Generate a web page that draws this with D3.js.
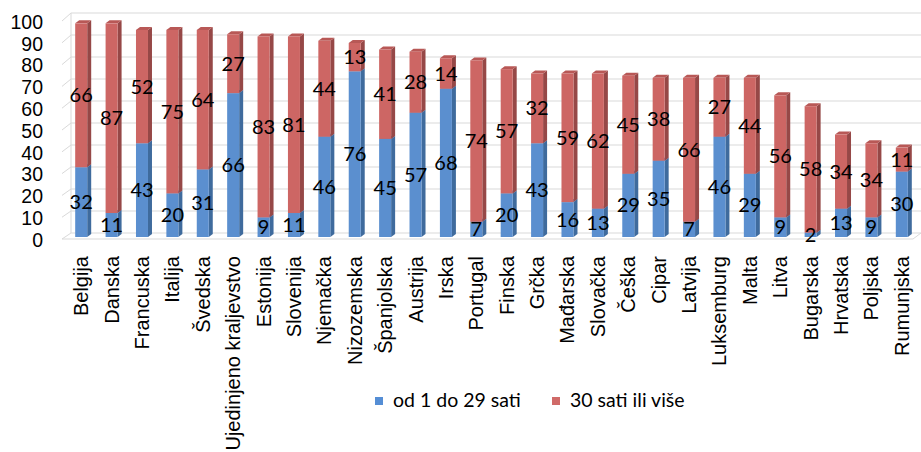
<!DOCTYPE html>
<html>
<head>
<meta charset="utf-8">
<style>
    body { margin: 0; background: #fff; }
    svg { font-family: "Lato", "Open Sans", sans-serif; }
    .y .domain, .x .domain { display: none; }
    .y .tick line, .x .tick line { display: none; }
    .y .tick text { font-size: 19.5px; fill: #000; }
    .x .tick text { font-size: 20px; fill: #000; }
</style>
</head>
<body>
<svg width="921" height="452"></svg>
<script src="https://cdnjs.cloudflare.com/ajax/libs/d3/7.8.5/d3.min.js"></script>
<script>
    // data
    const countries = ["Belgija", "Danska", "Francuska", "Italija", "Švedska", "Ujedinjeno kraljevstvo",
        "Estonija", "Slovenija", "Njemačka", "Nizozemska", "Španjolska", "Austrija", "Irska", "Portugal",
        "Finska", "Grčka", "Mađarska", "Slovačka", "Češka", "Cipar", "Latvija", "Luksemburg", "Malta",
        "Litva", "Bugarska", "Hrvatska", "Poljska", "Rumunjska"]
    const shortHours = [32, 11, 43, 20, 31, 66, 9, 11, 46, 76, 45, 57, 68, 7, 20, 43, 16, 13, 29, 35, 7, 46, 29, 9, 2, 13, 9, 30]
    const longHours = [66, 87, 52, 75, 64, 27, 83, 81, 44, 13, 41, 28, 14, 74, 57, 32, 59, 62, 45, 38, 66, 27, 44, 56, 58, 34, 34, 11]
    const seriesNames = ["od 1 do 29 sati", "30 sati ili više"]
    const yTicks = [0, 10, 20, 30, 40, 50, 60, 70, 80, 90, 100]

    let svg = d3.select("svg")

    // front plane and back wall scales (fake 3d)
    let y = d3.scaleLinear().domain([0, 100]).range([237, 19])
    let yBack = d3.scaleLinear().domain([0, 100]).range([233, 13])
    let x = d3.scaleBand().domain(countries).range([66, 917])

    let wallLeft = 62, wallBack = 71, wallRight = 921
    let barW = 12, dx = 4, dy = 3

    // walls
    let grid = svg.append("g")
    grid.selectAll(".gl")
        .data(yTicks)
        .join("path")
        .attr("d", d => `M${wallLeft},${y(d) + 2}L${wallBack},${yBack(d)}L${wallRight},${yBack(d)}`)
        .style("fill", "none")
        .style("stroke", "#d9d9d9")
        .style("stroke-width", 1)

    // floor front edge
    svg.append("path")
        .attr("d", `M${wallLeft},${y(0) + 2}L913,${y(0) + 2}L${wallRight},${yBack(0)}`)
        .style("fill", "none")
        .style("stroke", "#d9d9d9")
        .style("stroke-width", 1)
    svg.append("line")
        .attr("x1", wallBack).attr("x2", wallBack)
        .attr("y1", yBack(0)).attr("y2", yBack(100))
        .style("stroke", "#d9d9d9")

    let rows = countries.map((c, i) => ({ c: c, vals: [shortHours[i], longHours[i]] }))

    let colors = [
        { front: "#5b8fcf", side: "#3f6b9d", top: "#4f82bd", legend: "#558ed5" },
        { front: "#cd6664", side: "#964847", top: "#b85856", legend: "#d06a68" }
    ]

    let bars = svg.append("g")
        .selectAll("g")
        .data(rows)
        .join("g")
        .attr("transform", d => `translate(${x(d.c) + x.bandwidth() / 2 - barW / 2},0)`)

    bars.each(function (d) {
        let g = d3.select(this)
        let base = 0
        d.vals.forEach((v, k) => {
            let y0 = y(base), y1 = y(base + v)
            // side face
            g.append("path")
                .attr("d", `M${barW},${y0}L${barW + dx},${y0 - dy}L${barW + dx},${y1 - dy}L${barW},${y1}Z`)
                .style("fill", colors[k].side)
            // top face
            g.append("path")
                .attr("d", `M0,${y1}L${dx},${y1 - dy}L${barW + dx},${y1 - dy}L${barW},${y1}Z`)
                .style("fill", colors[k].top)
            // front face
            g.append("rect")
                .attr("x", 0)
                .attr("y", y1)
                .attr("width", barW)
                .attr("height", y0 - y1)
                .style("fill", colors[k].front)
            base += v
        })
        // value labels
        let b = 0
        d.vals.forEach(v => {
            g.append("text")
                .attr("x", barW / 2)
                .attr("y", y(b + v / 2) + 2)
                .attr("text-anchor", "middle")
                .attr("dominant-baseline", "middle")
                .style("font-size", "20px")
                .text(v)
            b += v
        })
    })

    // y axis labels
    svg.append("g")
        .attr("class", "y axis")
        .attr("transform", "translate(43,3)")
        .call(d3.axisLeft(y).tickValues(yTicks).tickSize(0).tickPadding(0))

    // category labels
    svg.append("g")
        .attr("class", "x axis")
        .attr("transform", "translate(0,256)")
        .call(d3.axisBottom(x).tickSize(0).tickPadding(0))
        .selectAll("text")
        .attr("transform", "rotate(-90)")
        .attr("text-anchor", "end")
        .attr("dy", "0.35em")
        .attr("x", 0)
        .attr("y", 0)

    // legend
    let legend = svg.append("g")
        .selectAll("g")
        .data(seriesNames)
        .join("g")
        .attr("transform", (d, i) => `translate(${i == 0 ? 375 : 552},401)`)
    legend.append("rect")
        .attr("x", 0).attr("y", -4)
        .attr("width", 8).attr("height", 8)
        .style("fill", (d, i) => colors[i].legend)
    legend.append("text")
        .attr("x", 18)
        .attr("y", 1)
        .attr("dominant-baseline", "middle")
        .style("font-size", "19.5px")
        .text(d => d)
</script>
</body>
</html>
